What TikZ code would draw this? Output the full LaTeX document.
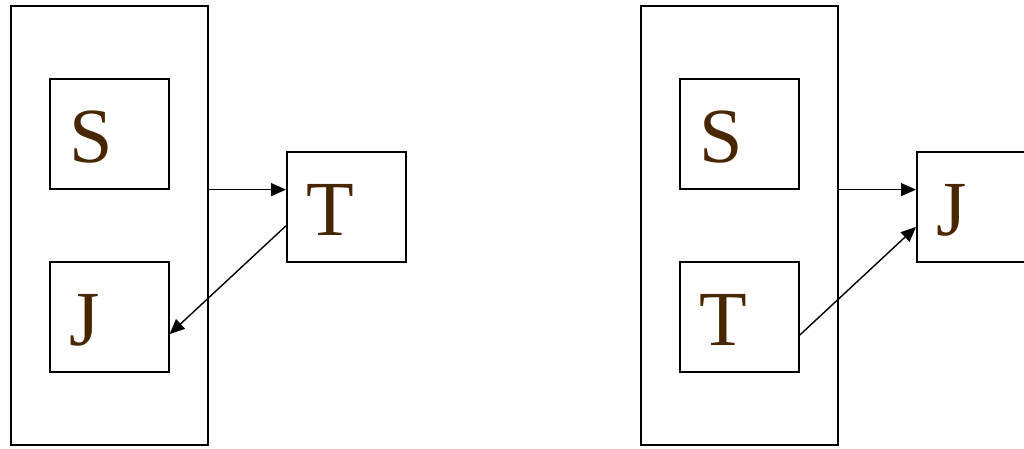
\documentclass[tikz,border=0pt]{standalone}
\usepackage{fontspec}
\setmainfont{Liberation Serif}
\usetikzlibrary{arrows.meta,calc}
\definecolor{lettercol}{RGB}{72,38,0}
\begin{document}
\begin{tikzpicture}[x=1pt,y=-1pt,
  outerbox/.style={draw,line width=2pt,minimum width=197pt,minimum height=439pt,anchor=north west,inner sep=0pt},
  smallbox/.style={draw,line width=1.6pt,minimum width=119pt,minimum height=110pt,anchor=north west,inner sep=0pt},
  letter/.style={anchor=base west,inner sep=0pt,text=lettercol,font=\fontsize{78}{78}\selectfont},
  link/.style={line width=1.4pt,-{Triangle[length=15pt,width=13pt]}}]
\useasboundingbox (0,0) rectangle (1024,448);
% left group
\node[outerbox] (oL) at (9.5,5) {};
\node[smallbox] (sL) at (49,78) {};
\node[smallbox] (jL) at (49,261) {};
\node[smallbox] (tR) at (286,151) {};
\node[letter] (sLt) at ($(sL.north west)+(20,84)$) {S};
\node[letter] (jLt) at ($(jL.north west)+(20,84)$) {J};
\node[letter] (tRt) at ($(tR.north west)+(20,84)$) {T};
\draw[link] (oL.east |- sL.south) -- (tR.west |- sL.south);
\draw[link] ($(tR.north west)!0.67!(tR.south west)$) -- ($(jL.north east)!0.655!(jL.south east)$);
% right group
\node[outerbox] (oR) at (639.5,5) {};
\node[smallbox] (sR) at (679,78) {};
\node[smallbox] (tL) at (679,261) {};
\node[smallbox] (jR) at (916,151) {};
\node[letter] (sRt) at ($(sR.north west)+(20,84)$) {S};
\node[letter] (tLt) at ($(tL.north west)+(20,84)$) {T};
\node[letter] (jRt) at ($(jR.north west)+(20,84)$) {J};
\draw[link] (oR.east |- sR.south) -- (jR.west |- sR.south);
\draw[link] ($(tL.north east)!0.665!(tL.south east)$) -- ($(jR.north west)!0.68!(jR.south west)$);
\end{tikzpicture}
\end{document}
